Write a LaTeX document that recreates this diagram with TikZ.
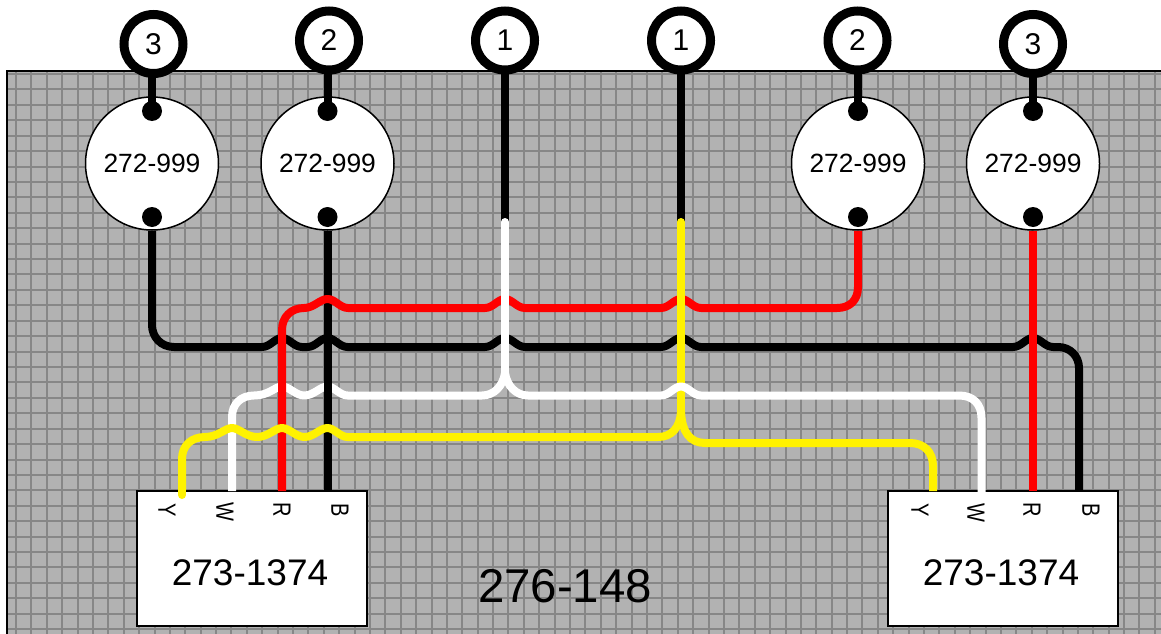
\documentclass[tikz,border=0pt]{standalone}
\usepackage{fontspec}
\usetikzlibrary{calc}
\setmainfont{Liberation Sans}
\definecolor{bggray}{HTML}{B2B2B2}
\definecolor{gridgray}{HTML}{878787}
\newcommand{\jmp}[2]{-- (#1-20,#2) .. controls (#1-12,#2) and (#1-7,#2-9) .. (#1,#2-9) .. controls (#1+7,#2-9) and (#1+12,#2) .. (#1+20,#2)}
\tikzset{
  x=1pt,y=-1pt,
  wire/.style={line width=8pt,line cap=butt,line join=round},
  blk/.style={wire,draw=black},
  redw/.style={wire,draw=red},
  whw/.style={wire,draw=white},
  yel/.style={wire,draw=yellow},
  pin/.style={circle,fill=black,inner sep=0pt,minimum size=20pt},
  lamp/.style={circle,draw=black,fill=white,line width=1.5pt,inner sep=0pt,minimum size=133pt,font=\fontsize{26.4}{28}\selectfont},
  numc/.style={circle,draw=black,fill=white,line width=9pt,inner sep=0pt,minimum size=59pt,font=\fontsize{30}{32}\selectfont},
  relay/.style={rectangle,draw=black,fill=white,line width=2pt,minimum width=230pt,minimum height=135pt,inner sep=0pt},
  lead/.style={font=\fontsize{20}{22}\selectfont,rotate=-90,inner sep=0pt},
}
\newcommand{\leadtxt}[1]{\scalebox{1}[1.25]{#1}}
\begin{document}
\begin{tikzpicture}
\useasboundingbox (0,0) rectangle (1161,634);
% board
\fill[bggray] (7,71) rectangle (1161,634);
\begin{scope}
\clip (7,71) rectangle (1161,634);
\foreach \i in {0,...,74} \draw[gridgray,line width=2pt] ({16+15.39*\i},71) -- ({16+15.39*\i},634);
\foreach \j in {0,...,36} \draw[gridgray,line width=2pt] (7,{74+15.42*\j}) -- (1161,{74+15.42*\j});
\end{scope}
\draw[black,line width=1.5pt] (7,634) -- (7,71) -- (1161,71);
% relays
\node[relay] (rl) at (252,558.5) {};
\node[relay] (rr) at (1003,558.5) {};
\coordinate (ly) at (182,495);\coordinate (lw) at (232,491);\coordinate (lr) at (282,491);\coordinate (lb) at (327.5,491);
\coordinate (ry) at (933,491);\coordinate (rw) at (981.5,493);\coordinate (rr1) at (1033,491);\coordinate (rb) at (1079,491);
% lamps
\node[lamp] (l3) at (152,163.5) {272-999};
\node[lamp] (l2) at (327.5,163.5) {272-999};
\node[lamp] (r2) at (858,163.5) {272-999};
\node[lamp] (r3) at (1033,163.5) {272-999};
% numbered circle positions
\coordinate (j1) at (505,222);\coordinate (j2) at (681,222);
\node[numc,draw=none,fill=none] (n3) at (153.5,44) {};
\node[numc,draw=none,fill=none] (n2) at (329,40.5) {};
\node[numc,draw=none,fill=none] (n1) at (505,40.5) {};
\node[numc,draw=none,fill=none] (n1b) at (681,40.5) {};
\node[numc,draw=none,fill=none] (n2b) at (857.5,40.5) {};
\node[numc,draw=none,fill=none] (n3b) at (1033,44) {};
% pins
\foreach \n/\m in {a/l3,b/l2,c/r2,d/r3}{
  \node[pin] (\n t) at ($(\m.center)+(0,-52.5)$) {};
  \node[pin] (\n b) at ($(\m.center)+(0,53.5)$) {};
}
% stems
\draw[blk] (n3.center -| at.center) -- (at.center);
\draw[blk] (n2.center -| bt.center) -- (bt.center);
\draw[blk] (n2b.center -| ct.center) -- (ct.center);
\draw[blk] (n3b.center -| dt.center) -- (dt.center);
% black main
\draw[blk] (l3.south) -- (152,325) .. controls (152,337) and (161,347) .. (174,347)
  \jmp{282}{347} \jmp{327.5}{347} \jmp{505}{347} \jmp{681}{347} \jmp{1033}{347}
  -- (1058,347) .. controls (1070,347) and (1079,356) .. (1079,368) -- (rb);
% white left
\draw[whw] (505,373) .. controls (503,386) and (494,395.5) .. (482,395.5)
  -- (347.5,395.5) .. controls (340,395.5) and (334,386.5) .. (327.5,386.5)
  .. controls (320,386.5) and (314,395.5) .. (304,395.5)
  .. controls (296,395.5) and (289,386.5) .. (282,386.5)
  .. controls (275,386.5) and (269,395.5) .. (254,395.5)
  .. controls (241,395.5) and (232,404) .. (232,417) -- (lw);
% black vertical
\draw[blk] (l2.south) -- (lb);
% red
\draw[redw] (lr) -- (282,330) .. controls (282,317) and (291,308) .. (304,308)
  .. controls (314,308) and (320,299) .. (327.5,299) .. controls (335,299) and (340,308) .. (348,308)
  \jmp{505}{308} \jmp{681}{308}
  -- (837,308) .. controls (850,308) and (858,300) .. (858,287) -- (r2.south);
\draw[redw] (r3.south) -- (rr1);
% stubs of numbered circles 1
\draw[blk] (n1.center) -- (j1);
\draw[blk] (n1b.center) -- (j2);
% white vertical
\draw[whw,line cap=round] (j1) -- (505,373);
% yellow
\draw[yel,line cap=round] (j2) -- (681,417);
\draw[yel] (681,412) .. controls (680,427) and (672,437) .. (658,437)
  -- (347.5,437) .. controls (340,437) and (334,428) .. (327.5,428)
  .. controls (320,428) and (314,437) .. (304.5,437)
  .. controls (296,437) and (289,428) .. (282,428)
  .. controls (275,428) and (268,437) .. (257,437)
  .. controls (246,437) and (239,428) .. (232,428)
  .. controls (225,428) and (218,437) .. (205,437)
  .. controls (191,437) and (182,446) .. (182,459) -- (182,490);
\draw[yel,line cap=round] (ly) -- (182,485);
\draw[yel] (681,412) .. controls (682,432) and (690,443) .. (705,443)
  -- (910,443) .. controls (924,443) and (933,452) .. (933,466) -- (ry);
% white right
\draw[whw] (505,373) .. controls (507,386) and (516,395.5) .. (528,395.5)
  \jmp{681}{395.5}
  -- (959,395.5) .. controls (973,395.5) and (981.5,404) .. (981.5,418) -- (rw);
% numbered circles on top
\foreach \n/\t in {n3/3,n2/2,n1/1,n1b/1,n2b/2,n3b/3}{
  \node[numc] at (\n) {\t};
}
% labels
\node[lead] (a1) at (167,510) {\leadtxt{Y}};
\node[lead] (a2) at (225,512) {\leadtxt{W}};
\node[lead] (a3) at (282,510) {\leadtxt{R}};
\node[lead] (a4) at (340,510) {\leadtxt{B}};
\node[lead] (b1) at (920,510) {\leadtxt{Y}};
\node[lead] (b2) at (976,513) {\leadtxt{W}};
\node[lead] (b3) at (1032,510) {\leadtxt{R}};
\node[lead] (b4) at (1091,510) {\leadtxt{B}};
\node[font=\fontsize{37}{39}\selectfont,inner sep=0pt] (t1) at (250,573) {273-1374};
\node[font=\fontsize{37}{39}\selectfont,inner sep=0pt] (t2) at (1001,573) {273-1374};
\node[font=\fontsize{47.4}{50}\selectfont,inner sep=0pt] (t3) at (565,586) {276-148};
\end{tikzpicture}
\end{document}
